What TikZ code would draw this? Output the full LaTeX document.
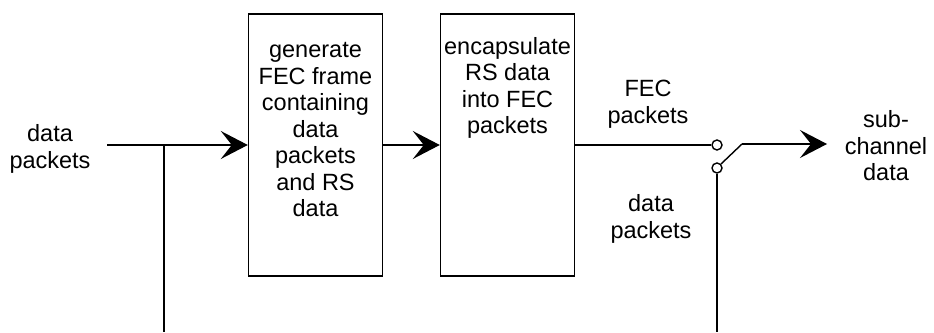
\documentclass[tikz,border=0pt]{standalone}
\usepackage{fontspec}
\setmainfont{Liberation Sans}
\usetikzlibrary{arrows.meta}
\begin{document}
\begin{tikzpicture}[x=1pt,y=-1pt,
  line width=1.4pt,
  lbl/.style={align=center,font=\fontsize{23.5}{26.5}\selectfont,inner sep=0pt},
  blk/.style={draw,minimum width=134pt,minimum height=262pt,inner sep=0pt},
  sw/.style={circle,draw,minimum size=10pt,inner sep=0pt,fill=white},
  arr/.style={-{Stealth[length=27pt,width=28pt,inset=11pt]}}]
\useasboundingbox (0,0) rectangle (934,332);
\node[blk] (b1) at (315.5,145) {};
\node[blk] (b2) at (507.5,145) {};
\node[lbl] (t1) at (315.5,130) {generate\\FEC frame\\containing\\data\\packets\\and RS\\data};
\node[lbl] (t2) at (507.5,88) {encapsulate\\RS data\\into FEC\\packets};
\node[lbl] (lin) at (50,149) {data\\packets};
\node[lbl] (lfec) at (648,104) {FEC\\packets};
\node[lbl] (ldat) at (651,219) {data\\packets};
\node[lbl] (lout) at (886,146) {sub-\\channel\\data};
\coordinate (in) at (107,145);
\coordinate (br) at (164,145);
\coordinate (brb) at (164,332);
\node[sw] (c1) at (717,145) {};
\node[sw] (c2) at (717,168) {};
\coordinate (lv) at (742,144);
\coordinate (out) at (827,144);
\coordinate (c2b) at (717,332);
\draw[arr] (in) -- (b1.west);
\draw (br) -- (brb);
\draw[arr] (b1.east) -- (b2.west);
\draw (b2.east) -- (c1.west);
\draw (c2.north east) -- (lv);
\draw[arr] (lv) -- (out);
\draw (c2.south) -- (c2b);
\end{tikzpicture}
\end{document}
